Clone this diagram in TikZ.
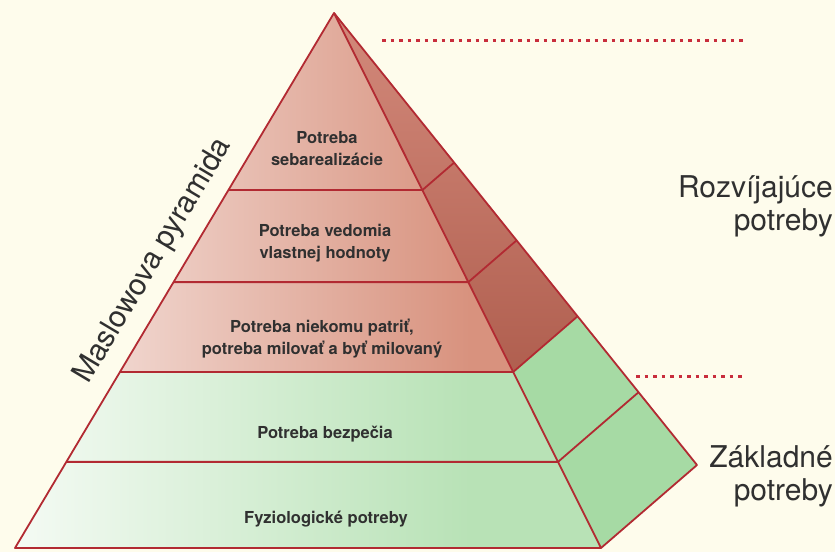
\documentclass[tikz,border=0pt]{standalone}
\usepackage{fontspec}
\setmainfont{TeX Gyre Heros}
\definecolor{PaperCream}{RGB}{254,252,236}
\definecolor{EdgeRed}{RGB}{178,42,50}
\definecolor{FrontRed}{RGB}{216,146,126}
\definecolor{SideRed}{RGB}{200,108,90}
\definecolor{FrontGreen}{RGB}{184,226,182}
\definecolor{SideGreen}{RGB}{166,218,164}
\definecolor{TextGray}{RGB}{48,48,48}
\definecolor{DotRed}{RGB}{200,45,60}
\usetikzlibrary{calc}

\begin{document}
\begin{tikzpicture}[x=1pt, y=-1pt,
		edge/.style={draw=EdgeRed, line width=1.8pt, line join=round},
		tier/.style={font=\bfseries\fontsize{16.5}{22}\selectfont, text=TextGray, align=center},
		sidelabel/.style={font=\fontsize{30}{33}\selectfont, text=TextGray, align=right, inner sep=0pt, anchor=north east},
		dots/.style={DotRed, line width=3pt, dash pattern=on 3.5pt off 5pt}]
	\fill[PaperCream] (0,0) rectangle (835,552);
	\useasboundingbox (0,0) rectangle (835,552);

	\coordinate (apex) at (334,13);
	\coordinate (baseleft) at (15,548);
	\coordinate (baseright) at (601,548);
	\coordinate (corner) at (697,465);
	\foreach \f/\n in {0.331/a, 0.503/b, 0.671/c, 0.839/d} {
		\coordinate (left\n) at ($(apex)!\f!(baseleft)$);
		\coordinate (front\n) at ($(apex)!\f!(baseright)$);
		\coordinate (side\n) at ($(apex)!\f!(corner)$);
	}

	% front face
	\begin{scope}
		\clip (apex) -- (frontc) -- (leftc) -- cycle;
		\fill[FrontRed] (0,0) rectangle (620,380);
		\shade[left color=FrontRed!20!white, right color=FrontRed] (15,0) rectangle (470,380);
	\end{scope}
	\begin{scope}
		\clip (leftc) -- (frontc) -- (baseright) -- (baseleft) -- cycle;
		\fill[FrontGreen] (0,360) rectangle (620,552);
		\shade[left color=FrontGreen!15!white, right color=FrontGreen] (15,360) rectangle (470,552);
	\end{scope}

	% side face
	\shade[top color=SideRed!80!white, bottom color=SideRed!88!black] (apex) -- (frontc) -- (sidec) -- cycle;
	\fill[SideGreen] (frontc) -- (baseright) -- (corner) -- (sidec) -- cycle;

	\draw[edge] (apex) -- (baseleft) -- (baseright) -- (corner) -- cycle;
	\draw[edge] (apex) -- (baseright);
	\foreach \n in {a,b,c,d}
		\draw[edge] (left\n) -- (front\n) -- (side\n);

	\draw[dots] (382,40) -- (745,40);
	\draw[dots] (636,376) -- (743,376);

	\node[tier] (self) at (327,149) {Potreba\\sebarealizácie};
	\node[tier] (esteem) at (325,243) {Potreba vedomia\\vlastnej hodnoty};
	\node[tier] (love) at (322,339) {Potreba niekomu patriť,\\potreba milovať a byť milovaný};
	\node[tier] (safety) at (325,434) {Potreba bezpečia};
	\node[tier] (body) at (326,519) {Fyziologické potreby};

	\node[sidelabel] (growth) at (833,175) {Rozvíjajúce\\potreby};
	\node[sidelabel] (basic) at (833,445) {Základné\\potreby};

	\node[font=\fontsize{30}{36}\selectfont, text=TextGray, rotate=59.2, anchor=base] (title) at (160,265) {Maslowova pyramida};
\end{tikzpicture}
\end{document}
